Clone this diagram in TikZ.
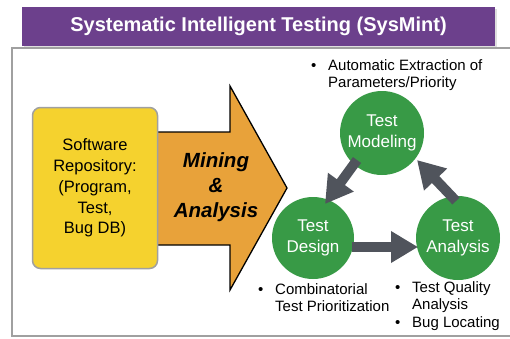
\documentclass[tikz,border=0pt]{standalone}
\usepackage{fontspec}
\setmainfont{Liberation Sans}
\usetikzlibrary{arrows.meta}
\definecolor{ttlpurple}{RGB}{108,64,140}
\definecolor{repoyellow}{RGB}{245,210,46}
\definecolor{minorange}{RGB}{232,162,58}
\definecolor{cyclegreen}{RGB}{56,154,70}
\definecolor{cyclegray}{RGB}{80,84,92}
\definecolor{frame}{RGB}{160,160,160}
\tikzset{
  phase/.style={circle, fill=cyclegreen, text=white, align=center, inner sep=0pt,
    minimum size=#1, font=\fontsize{17}{21}\selectfont},
  cyc/.style={draw=cyclegray, line width=10pt,
    -{Triangle[width=30pt,length=27pt]}},
  note/.style={anchor=base west, inner sep=0pt, font=\fontsize{15}{17}\selectfont},
}
\newcommand{\bl}{\textbullet}
\begin{document}
\begin{tikzpicture}[x=1pt,y=-1pt]
\useasboundingbox (0,0) rectangle (510,338);
% frame
\draw[frame, line width=1.2pt] (512,48) -| (12,336) -- (512,336);
% title banner
\fill[gray!25] (24,9) rectangle (497,47);
\node[fill=ttlpurple, minimum width=473pt, minimum height=39pt, inner sep=0pt,
  text=white, font=\fontsize{20}{24}\selectfont\bfseries] (title) at (258.5,26.5)
  {Systematic Intelligent Testing (SysMint)};
% mining arrow
\draw[fill=minorange, line width=1.3pt, line join=miter]
  (150,132) -- (230,132) -- (230,86) -- (287,188) -- (230,290) -- (230,245) -- (150,245) -- cycle;
\node[font=\fontsize{20.5}{25}\selectfont\bfseries\itshape, align=center] (mining) at (216,187)
  {Mining\\\&\\Analysis};
% repository
\node[draw=frame, line width=1.5pt, fill=repoyellow, rounded corners=8pt,
  minimum width=125pt, minimum height=161pt, align=center, inner sep=0pt,
  font=\fontsize{16.5}{20.8}\selectfont] (repo) at (95,188)
  {Software\\Repository:\\(Program,\\Test,\\Bug DB)};
% cycle nodes
\node[phase=84pt] (model) at (382,133) {Test\\Modeling};
\node[phase=82pt] (design) at (313,238) {Test\\Design};
\node[phase=84pt] (anal) at (458,238) {Test\\Analysis};
% cycle arrows
\coordinate (m1) at (357,160);
\coordinate (d1) at (325,204);
\coordinate (d2) at (352,247);
\coordinate (a2) at (418,247);
\coordinate (a3) at (456,201);
\coordinate (m3) at (417,160);
\draw[cyc] (m1) -- (d1);
\draw[cyc] (d2) -- (a2);
\draw[cyc] (a3) -- (m3);
% notes
\node[note] (n1) at (311,70.5) {\begin{tabular}[t]{@{}p{17pt}@{}l@{}}\bl & Automatic Extraction of\\ & Parameters/Priority\end{tabular}};
\node[note] (n2) at (258,294) {\begin{tabular}[t]{@{}p{17pt}@{}l@{}}\bl & Combinatorial\\ & Test Prioritization\end{tabular}};
\node[note] (n3) at (395,292) {\begin{tabular}[t]{@{}p{17pt}@{}l@{}}\bl & Test Quality\\ & Analysis\\[1pt] \bl & Bug Locating\end{tabular}};
\end{tikzpicture}
\end{document}
